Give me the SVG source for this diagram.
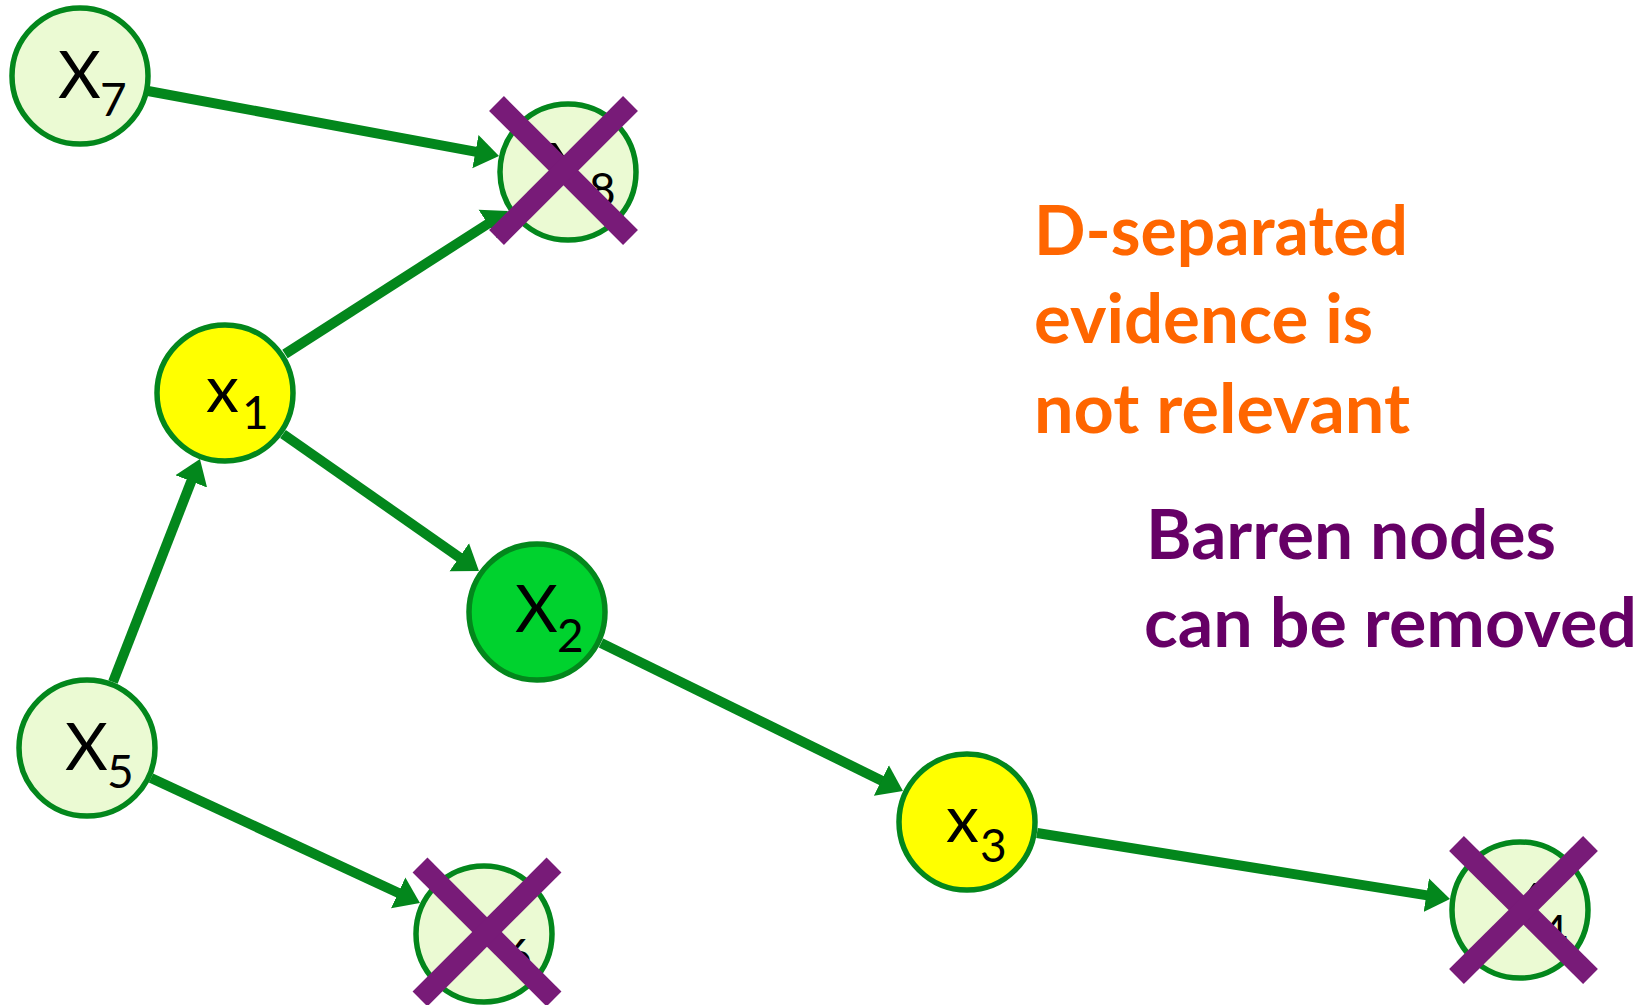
<svg xmlns="http://www.w3.org/2000/svg" width="1652" height="1005" viewBox="0 0 1652 1005">
<style>
.node{stroke:#03871C;stroke-width:5.5}
.light{fill:#EBFAD3}
.yellow{fill:#FFFF00}
.green{fill:#00D22E}
.lbl{font-family:Lato,"Open Sans","Liberation Sans",sans-serif;font-size:66px;fill:#000}
.sub{font-size:46px}
.edge{stroke:#03871C;stroke-width:10;fill:none;marker-end:url(#arrow)}
.cross{stroke:#781B78;stroke-width:21;stroke-linecap:butt}
.note{font-family:Lato,"Open Sans","Liberation Sans",sans-serif;font-weight:bold;font-size:68px}
.orange{fill:#FF6600}
.purple{fill:#660066}
</style>
<defs>
<marker id="arrow" markerUnits="userSpaceOnUse" markerWidth="26" markerHeight="36" viewBox="0 -18 26 36" refX="1" refY="0" orient="auto">
<path d="M0,-17 L24,0 L0,17 z" fill="#03871C"/>
</marker>
</defs>
<g id="connectors">
<line class="edge" x1="148" y1="91" x2="476.4" y2="151.8"/>
<line class="edge" x1="285" y1="354" x2="488.6" y2="223.4"/>
<line class="edge" x1="283" y1="434" x2="460.1" y2="557.8"/>
<line class="edge" x1="113" y1="682" x2="191.6" y2="480.4"/>
<line class="edge" x1="151" y1="778" x2="399.1" y2="893.3"/>
<line class="edge" x1="601" y1="643" x2="882.3" y2="780.9"/>
<line class="edge" x1="1037" y1="833" x2="1427.3" y2="895.4"/>
</g>
<g id="node-x7">
<circle class="node light" cx="80" cy="76" r="68"/>
<text class="lbl" x="58" y="98">X<tspan class="sub" x="100" y="116">7</tspan></text>
</g>
<g id="node-x1">
<circle class="node yellow" cx="225" cy="393" r="68"/>
<text class="lbl" x="206" y="412">x<tspan class="sub" x="242" y="429">1</tspan></text>
</g>
<g id="node-x2">
<circle class="node green" cx="537" cy="612" r="68"/>
<text class="lbl" x="515" y="632">X<tspan class="sub" x="557" y="652">2</tspan></text>
</g>
<g id="node-x5">
<circle class="node light" cx="87" cy="748" r="68"/>
<text class="lbl" x="65" y="770">X<tspan class="sub" x="107" y="788">5</tspan></text>
</g>
<g id="node-x3">
<circle class="node yellow" cx="967" cy="822" r="68"/>
<text class="lbl" x="946" y="842">x<tspan class="sub" x="980" y="862">3</tspan></text>
</g>
<g id="node-x8">
<circle class="node light" cx="568" cy="172" r="68"/>
<text class="lbl" x="547" y="190">X<tspan class="sub" x="589" y="206">8</tspan></text>
<line class="cross" x1="496.5" y1="103.5" x2="630.5" y2="237.5"/>
<line class="cross" x1="630.5" y1="103.5" x2="496.5" y2="237.5"/>
</g>
<g id="node-x6">
<circle class="node light" cx="484" cy="934" r="68"/>
<text class="lbl" x="463" y="954">X<tspan class="sub" x="505" y="972">6</tspan></text>
<line class="cross" x1="420" y1="865" x2="554" y2="999"/>
<line class="cross" x1="554" y1="865" x2="420" y2="999"/>
</g>
<g id="node-x4">
<circle class="node light" cx="1520" cy="910" r="68"/>
<text class="lbl" x="1499" y="930">X<tspan class="sub" x="1541" y="948">4</tspan></text>
<line class="cross" x1="1456.5" y1="843.5" x2="1590.5" y2="976.5"/>
<line class="cross" x1="1590.5" y1="843.5" x2="1456.5" y2="976.5"/>
</g>
<g id="notes">
<text class="note orange" x="1034" y="255" textLength="374" lengthAdjust="spacingAndGlyphs">D-separated</text>
<text class="note orange" x="1034" y="343" textLength="339" lengthAdjust="spacingAndGlyphs">evidence is</text>
<text class="note orange" x="1034" y="433" textLength="376" lengthAdjust="spacingAndGlyphs">not relevant</text>
<text class="note purple" x="1146" y="559" textLength="410" lengthAdjust="spacingAndGlyphs">Barren nodes</text>
<text class="note purple" x="1144" y="647" textLength="493" lengthAdjust="spacingAndGlyphs">can be removed</text>
</g>
</svg>
